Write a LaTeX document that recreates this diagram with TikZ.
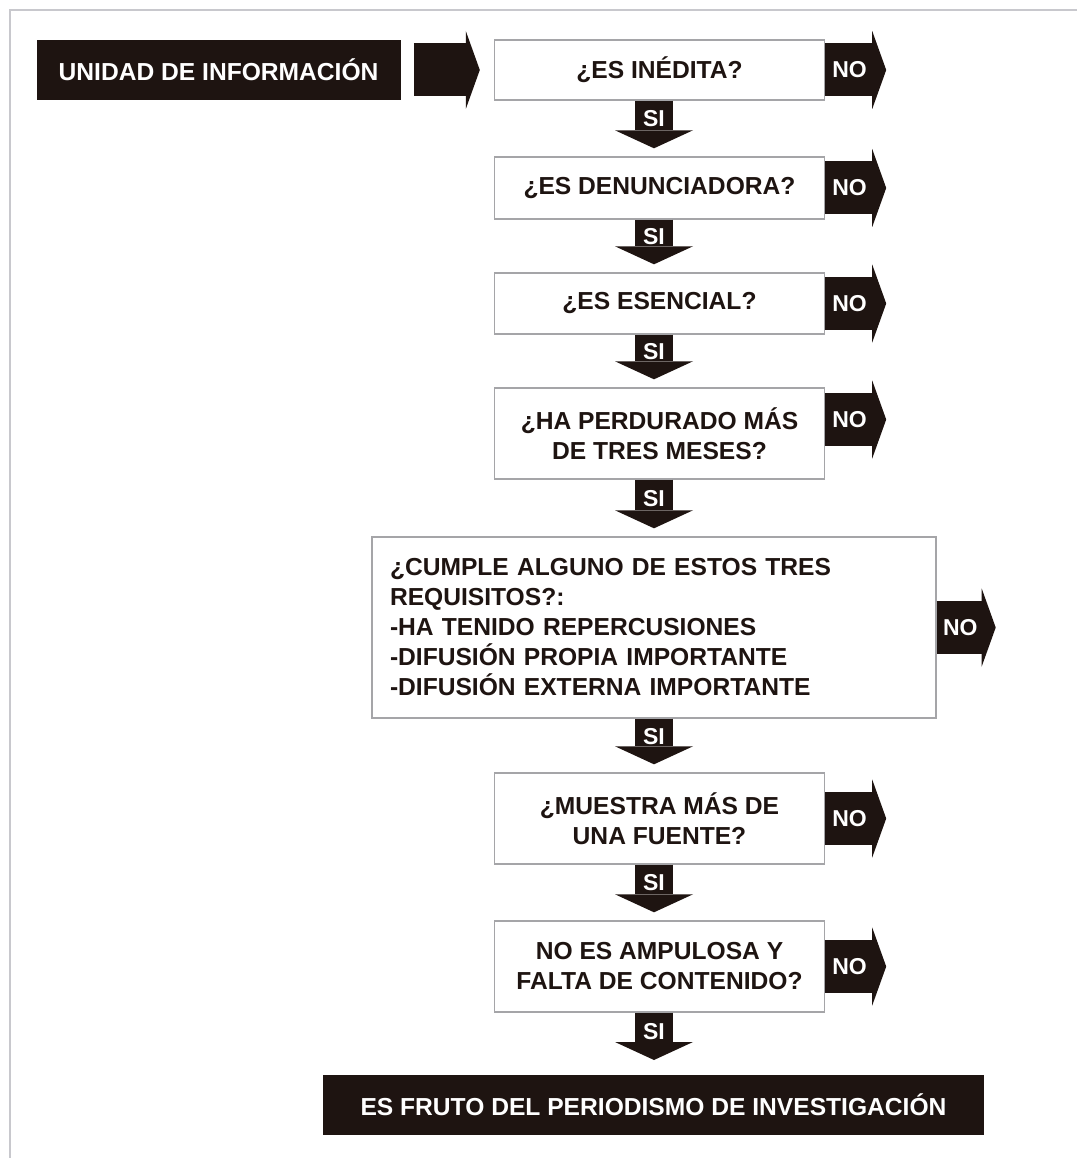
\documentclass[tikz,border=0pt]{standalone}
\usepackage{fontspec}
\setmainfont{Liberation Sans}
\usetikzlibrary{arrows.meta,positioning}

\definecolor{ink}{RGB}{30,20,17}
\definecolor{rim}{RGB}{165,165,168}
\definecolor{framegray}{RGB}{200,200,205}

\newcommand{\qfont}{\fontsize{24.6}{30}\selectfont\bfseries}
\newcommand{\afont}{\fontsize{23}{27}\selectfont\bfseries}

\tikzset{
  question/.style={draw=rim, line width=1.4pt, fill=white, text=ink, font=\qfont,
    align=center, minimum width=330pt, minimum height=#1, inner sep=0pt},
  question/.default=60pt,
  darkbox/.style={fill=ink, text=white, font=\qfont, minimum height=60pt, inner sep=0pt},
  siarrow/.style={ink, line width=38pt, shorten >=8pt,
    -{Triangle[width=78pt,length=18pt,line width=0pt]}},
  noarrow/.style={ink, line width=53pt,
    -{Triangle[width=78pt,length=14pt,line width=0pt]}},
  answer/.style={text=white, font=\afont, inner sep=0pt}
}

\begin{document}
\begin{tikzpicture}[x=1pt,y=-1pt]
	\useasboundingbox (0,0) rectangle (1077,1158);
	\draw[framegray, line width=2pt] (10,1158) -- (10,10) -- (1077,10);

	% questions
	\node[question] (q1) at (659.5,70) {¿ES INÉDITA?};
	\node[question=62pt] (q2) [below=55.6pt of q1] {¿ES DENUNCIADORA?};
	\node[question=61pt] (q3) [below=52.6pt of q2] {¿ES ESENCIAL?};
	\node[question=91pt] (q4) [below=52.6pt of q3] {¿HA PERDURADO MÁS\\DE TRES MESES?};
	\node[question=181pt, minimum width=564pt, text width=528pt, align=left]
		(q5) [below=56.6pt of q4, xshift=-5.5pt]
		{¿CUMPLE ALGUNO DE ESTOS TRES\\REQUISITOS?:\\-HA TENIDO REPERCUSIONES\\-DIFUSIÓN PROPIA IMPORTANTE\\-DIFUSIÓN EXTERNA IMPORTANTE};
	\node[question=91pt] (q6) [below=53.6pt of q5, xshift=5.5pt] {¿MUESTRA MÁS DE\\UNA FUENTE?};
	\node[question=91pt] (q7) [below=55.6pt of q6] {NO ES AMPULOSA Y\\FALTA DE CONTENIDO?};

	\node[darkbox, minimum width=364pt] (unit) [left=93pt of q1] {UNIDAD DE INFORMACIÓN};
	\node[darkbox, minimum width=661pt] (fruit) [below=62.3pt of q7, xshift=-6pt] {ES FRUTO DEL PERIODISMO DE INVESTIGACIÓN};

	\coordinate (axis) at (q5.center);

	% free ends of the NO arrows
	\coordinate (n1) at ([xshift=61pt]q1.east);
	\coordinate (n2) at ([xshift=61pt]q2.east);
	\coordinate (n3) at ([xshift=61pt]q3.east);
	\coordinate (n4) at ([xshift=61pt,yshift=14pt]q4.east);
	\coordinate (n5) at ([xshift=59pt]q5.east);
	\coordinate (n6) at ([xshift=61pt]q6.east);
	\coordinate (n7) at ([xshift=61pt]q7.east);

	\draw[noarrow] ([xshift=13pt]unit.east) -- ([xshift=-14pt]q1.west);

	\draw[siarrow] (q1.south -| axis) -- node[answer, pos=0.33]{SI} (q2.north -| axis);
	\draw[siarrow] (q2.south -| axis) -- node[answer, pos=0.33]{SI} (q3.north -| axis);
	\draw[siarrow] (q3.south -| axis) -- node[answer, pos=0.33]{SI} (q4.north -| axis);
	\draw[siarrow] (q4.south -| axis) -- node[answer, pos=0.33]{SI} (q5.north -| axis);
	\draw[siarrow] (q5.south -| axis) -- node[answer, pos=0.33]{SI} (q6.north -| axis);
	\draw[siarrow] (q6.south -| axis) -- node[answer, pos=0.33]{SI} (q7.north -| axis);
	\draw[siarrow, shorten >=15pt] (q7.south -| axis) -- node[answer, pos=0.30]{SI} (fruit.north -| axis);

	\draw[noarrow] (q1.east) -- node[answer, pos=0.4]{NO} (n1);
	\draw[noarrow] (q2.east) -- node[answer, pos=0.4]{NO} (n2);
	\draw[noarrow] (q3.east) -- node[answer, pos=0.4]{NO} (n3);
	\draw[noarrow] ([yshift=14pt]q4.east) -- node[answer, pos=0.4]{NO} (n4);
	\draw[noarrow] (q5.east) -- node[answer, pos=0.4]{NO} (n5);
	\draw[noarrow] (q6.east) -- node[answer, pos=0.4]{NO} (n6);
	\draw[noarrow] (q7.east) -- node[answer, pos=0.4]{NO} (n7);
\end{tikzpicture}
\end{document}
